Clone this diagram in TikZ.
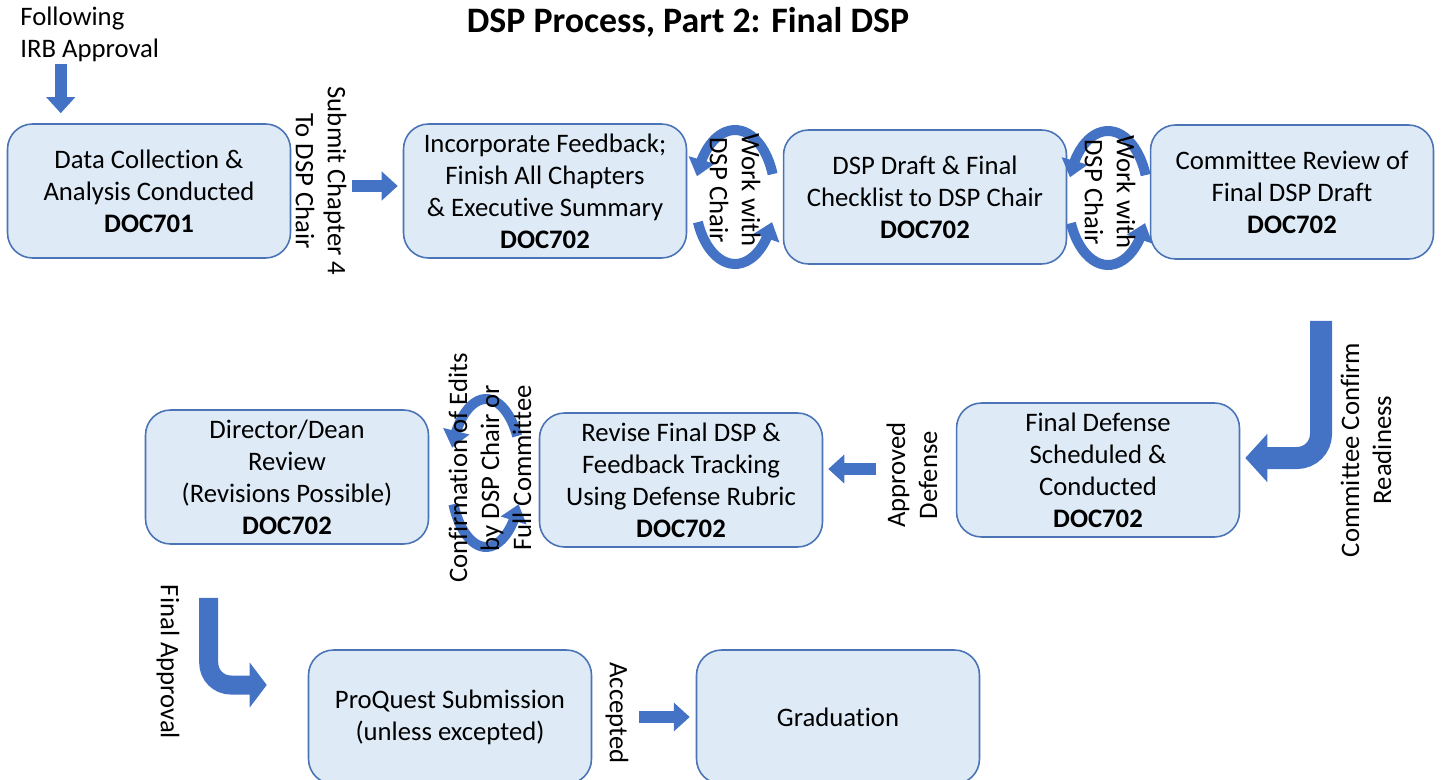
\documentclass[tikz,border=0pt]{standalone}
\usepackage{fontspec}
\setmainfont{Carlito}[Ligatures=NoCommon]
\usetikzlibrary{arrows.meta,bending,calc}
\definecolor{boxfill}{HTML}{DEEBF7}
\definecolor{boxline}{HTML}{4A74B5}
\definecolor{arrowblue}{HTML}{4472C4}
\tikzset{
  stage/.style={draw=boxline, fill=boxfill, line width=0.9pt, rounded corners=0.5cm,
    minimum width=5.66cm, minimum height=2.68cm, align=center, inner sep=0pt,
    font=\fontsize{15.2}{18.2}\selectfont},
  tag/.style={align=center, inner sep=0pt, font=\fontsize{15.2}{18.2}\selectfont},
  blk/.style={arrowblue, line width=0.24cm, -{Triangle[width=0.56cm,length=0.32cm]}},
  bent/.style={arrowblue, line width=0.44cm, rounded corners=0.48cm, -{Triangle[width=0.94cm,length=0.44cm]}},
  turn/.style={arrowblue, line width=0.2cm, -{Triangle[width=0.52cm,length=0.34cm]}}
}

\begin{document}
\begin{tikzpicture}[x=0.02cm, y=-0.02cm]
\useasboundingbox (0,0) rectangle (1442,780);

\node[font=\bfseries\fontsize{20.4}{24}\selectfont] (title) at (688,22) {DSP Process, Part 2: Final DSP};

\node[stage] (dc) at (149,191) {Data Collection \&\\Analysis Conducted\\\textbf{DOC701}};
\node[stage] (fb) at (545,191) {Incorporate Feedback;\\Finish All Chapters\\\& Executive Summary\\\textbf{DOC702}};
\node[stage] (dr) at (925,197) {DSP Draft \& Final\\Checklist to DSP Chair\\\textbf{DOC702}};
\node[stage] (cr) at (1292,192) {Committee Review of\\Final DSP Draft\\\textbf{DOC702}};
\node[stage] (fd) at (1098,470) {Final Defense\\Scheduled \&\\Conducted\\\textbf{DOC702}};
\node[stage] (rv) at (681,480) {Revise Final DSP \&\\Feedback Tracking\\Using Defense Rubric\\\textbf{DOC702}};
\node[stage] (dd) at (287,477) {Director/Dean\\Review\\(Revisions Possible)\\\textbf{DOC702}};
\node[stage] (pq) at (450,717) {ProQuest Submission\\(unless excepted)};
\node[stage] (gr) at (838,717) {Graduation};

\node[tag, anchor=west, align=left] (irb) at (20,34) {Following\\IRB Approval};
\draw[blk] ($(dc.north west)+(54,-59)$) -- ($(dc.north west)+(54,-10)$);

\node[tag, rotate=-90] (sub) at (321,181) {Submit Chapter 4\\To DSP Chair};
\draw[blk] ($(dc.east)+(61,-5)$) -- ($(fb.west)+(-5,-5)$);

\coordinate (lp1) at (735,197);
\draw[turn] ($(lp1)+(20:0.8cm and 1.34cm)$) arc[start angle=20, end angle=162, x radius=0.8cm, y radius=1.34cm];
\draw[turn] ($(lp1)+(202:0.8cm and 1.34cm)$) arc[start angle=202, end angle=338, x radius=0.8cm, y radius=1.34cm];
\node[tag, rotate=-90] (wk1) at ($(lp1)+(0,-7)$) {Work with\\DSP Chair};

\coordinate (lp2) at (1108,198);
\draw[turn] ($(lp2)+(20:0.8cm and 1.34cm)$) arc[start angle=20, end angle=162, x radius=0.8cm, y radius=1.34cm];
\draw[turn] ($(lp2)+(202:0.8cm and 1.34cm)$) arc[start angle=202, end angle=338, x radius=0.8cm, y radius=1.34cm];
\node[tag, rotate=-90] (wk2) at ($(lp2)+(2,-6)$) {Work with\\DSP Chair};

\draw[bent] ($(cr.south)+(29,61)$) |- ($(fd.east)+(5,-12)$);
\node[tag, rotate=90] (ccr) at (1366,450) {Committee Confirm\\Readiness};

\node[tag, rotate=90] (apd) at (912,475) {Approved\\Defense};
\draw[blk] ($(fd.west)+(-80,-1)$) -- ($(rv.east)+(5,-11)$);

\coordinate (lp3) at (486,473);
\draw[turn] ($(lp3)+(30:0.72cm and 1.48cm)$) arc[start angle=30, end angle=160, x radius=0.72cm, y radius=1.48cm];
\draw[turn] ($(lp3)+(205:0.72cm and 1.48cm)$) arc[start angle=205, end angle=335, x radius=0.72cm, y radius=1.48cm];
\node[tag, rotate=90] (cfe) at ($(lp3)+(4,-5)$) {Confirmation of Edits\\by DSP Chair or\\Full Committee};

\node[tag, rotate=-90] (fap) at (168,662) {Final Approval};
\draw[bent, line width=0.38cm, rounded corners=0.44cm, -{Triangle[width=0.88cm,length=0.34cm]}] ($(dd.south west)+(64,53)$) |- ($(pq.west)+(-41,-32)$);

\node[tag, rotate=-90] (acc) at (617,713) {Accepted};
\draw[blk] ($(pq.east)+(47,0)$) -- ($(gr.west)+(-6,0)$);
\end{tikzpicture}
\end{document}
